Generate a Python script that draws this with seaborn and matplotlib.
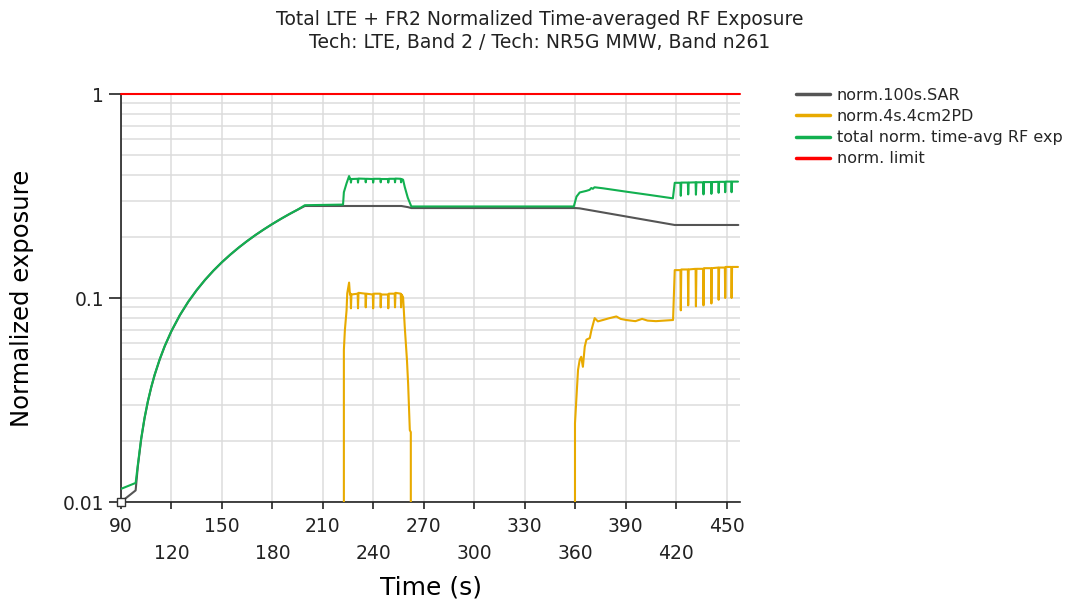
import matplotlib
matplotlib.use("Agg")
import matplotlib.pyplot as plt
import seaborn as sns
from matplotlib.ticker import LogLocator, FixedLocator, NullFormatter
from matplotlib.transforms import ScaledTranslation

# ---------------- data ----------------
title_lines = ["Total LTE + FR2 Normalized Time-averaged RF Exposure",
               "Tech: LTE, Band 2 / Tech: NR5G MMW, Band n261"]
series_names = ["norm.100s.SAR", "norm.4s.4cm2PD",
                "total norm. time-avg RF exp", "norm. limit"]
x_ticks = [90, 120, 150, 180, 210, 240, 270, 300, 330, 360, 390, 420, 450]
y_ticks = [0.01, 0.1, 1]
y_tick_labels = ["0.01", "0.1", "1"]

sar_time = [90, 98.7, 100, 102, 104, 106, 108, 110, 113, 116, 120, 125, 130,
            135, 140, 145, 150, 155, 160, 165, 170, 175, 180, 185, 190, 195,
            199.3, 256.7, 260.5, 262.6, 360.0, 362.7, 419.2, 457.0]
sar_vals = [0.0100, 0.0114, 0.0149, 0.0203, 0.0257, 0.0311, 0.0365, 0.0419,
            0.0499, 0.0580, 0.0688, 0.0823, 0.0958, 0.1092, 0.1227, 0.1362,
            0.1497, 0.1631, 0.1766, 0.1901, 0.2036, 0.2170, 0.2305, 0.2440,
            0.2575, 0.2709, 0.2825, 0.2825, 0.279, 0.276, 0.276, 0.275,
            0.228, 0.228]

pd_time = [90, 222.4, 222.5, 223.1, 224.1, 224.5, 225.6, 226.1,
           226.5, 226.7, 227.0, 230.7, 230.9, 231.2, 235.3, 235.5, 235.8,
           239.7, 239.9, 240.2, 244.2, 244.4, 244.7, 248.7, 248.9, 249.2,
           252.7, 252.9, 253.2, 256.3, 256.5, 256.8,
           257.7, 258.7, 260.0, 260.7, 261.7, 262.3, 262.6,
           359.8, 359.9, 360.8, 361.7, 362.7, 363.6, 364.6, 365.7, 366.7,
           368.7, 369.7, 371.6, 373.5, 376.5, 380.0, 384.5, 387.0, 390.4,
           393.0, 395.8, 399.8, 403.0, 408.0, 413.0, 418.2,
           419.2, 422.6, 422.8, 423.1, 427.0, 427.2, 427.5, 431.6, 431.8, 432.1,
           436.1, 436.3, 436.6, 440.8, 441.0, 441.3, 445.1, 445.3, 445.6,
           449.0, 449.2, 449.5, 452.8, 453.0, 453.3, 456.8]
pd_vals = [0, 0, 0.0556, 0.0697, 0.087, 0.1054, 0.119, 0.104,
           0.105, 0.089, 0.104, 0.105, 0.089, 0.106, 0.105, 0.090, 0.105,
           0.104, 0.089, 0.105, 0.105, 0.090, 0.104, 0.104, 0.089, 0.105,
           0.105, 0.090, 0.106, 0.105, 0.090, 0.104,
           0.101, 0.072, 0.0497, 0.038, 0.0225, 0.022, 0,
           0, 0.0243, 0.0329, 0.0444, 0.0497, 0.0515, 0.046, 0.0577, 0.0625,
           0.0636, 0.0697, 0.0797, 0.0768, 0.078, 0.0795, 0.0812, 0.079, 0.078,
           0.0775, 0.077, 0.079, 0.0775, 0.077, 0.0775, 0.078,
           0.137, 0.137, 0.087, 0.138, 0.138, 0.092, 0.138, 0.139, 0.091, 0.139,
           0.139, 0.092, 0.140, 0.140, 0.094, 0.140, 0.141, 0.098, 0.141,
           0.141, 0.100, 0.142, 0.142, 0.100, 0.142, 0.142]

tot_time = [90, 98.7, 100, 102, 104, 106, 108, 110, 113, 116, 120, 125, 130,
            135, 140, 145, 150, 155, 160, 165, 170, 175, 180, 185, 190, 195,
            199.3, 222.0, 222.5, 224.1, 225.6, 226.1,
            226.5, 226.7, 227.0, 230.7, 230.9, 231.2, 235.3, 235.5, 235.8,
            239.7, 239.9, 240.2, 244.2, 244.4, 244.7, 248.7, 248.9, 249.2,
            252.7, 252.9, 253.2, 256.3, 256.5, 256.8,
            257.7, 258.7, 260.5, 262.6, 359.2, 360.8, 362.7, 364.6, 366.6,
            368.6, 369.6, 370.5, 371.5, 376.5, 390.4, 404.2, 418.1,
            419.2, 422.6, 422.8, 423.1, 427.0, 427.2, 427.5, 431.6, 431.8, 432.1,
            436.1, 436.3, 436.6, 440.8, 441.0, 441.3, 445.1, 445.3, 445.6,
            449.0, 449.2, 449.5, 452.8, 453.0, 453.3, 456.8]
tot_vals = [0.0116, 0.0124, 0.0152, 0.0205, 0.0259, 0.0313, 0.0367, 0.0421,
            0.0501, 0.0582, 0.0690, 0.0825, 0.0960, 0.1094, 0.1229, 0.1364,
            0.1499, 0.1633, 0.1768, 0.1903, 0.2038, 0.2172, 0.2307, 0.2442,
            0.2577, 0.2711, 0.2850, 0.287, 0.330, 0.365, 0.396, 0.384,
            0.384, 0.368, 0.383, 0.384, 0.368, 0.385, 0.384, 0.369, 0.384,
            0.383, 0.368, 0.384, 0.384, 0.369, 0.383, 0.383, 0.368, 0.384,
            0.384, 0.369, 0.385, 0.384, 0.369, 0.383,
            0.380, 0.350, 0.310, 0.281, 0.281, 0.314, 0.329, 0.332, 0.335,
            0.339, 0.346, 0.343, 0.349, 0.345, 0.332, 0.320, 0.308,
            0.367, 0.367, 0.317, 0.368, 0.368, 0.322, 0.368, 0.369, 0.321, 0.369,
            0.369, 0.322, 0.370, 0.370, 0.324, 0.370, 0.371, 0.328, 0.371,
            0.371, 0.330, 0.372, 0.372, 0.330, 0.372, 0.372]

limit_time = [90, 458]
limit_vals = [1, 1]

colors = ["#555555", "#E8AA00", "#12B050", "#FF0000"]

# ---------------- figure ----------------
sns.set_theme(style="white")
plt.rcParams["font.family"] = ["DejaVu Sans"]

W, H = 1066, 602
fig = plt.figure(figsize=(W / 100, H / 100), dpi=100)
ax = fig.add_axes([121 / W, 1 - 502 / H, (740 - 121) / W, (502 - 94) / H])

for t, v, c, name in zip([sar_time, pd_time, tot_time, limit_time],
                         [sar_vals, pd_vals, tot_vals, limit_vals],
                         colors, series_names):
    sns.lineplot(x=t, y=v, color=c, label=name, linewidth=1.5,
                 estimator=None, sort=False, ax=ax,
                 clip_on=(name != "norm. limit"), zorder=3)

sns.scatterplot(x=sar_time[:1], y=sar_vals[:1], marker="s", s=28,
                facecolor="white", edgecolor="#333333", linewidth=1.0,
                ax=ax, clip_on=False, zorder=6, legend=False)

ax.set_yscale("log")
ax.set_xlim(90, 458)
ax.set_ylim(0.01, 1)

ax.yaxis.set_major_locator(FixedLocator(y_ticks))
ax.set_yticklabels(y_tick_labels)
ax.yaxis.set_minor_locator(LogLocator(base=10, subs=[2, 3, 4, 5, 6, 7, 8, 9]))
ax.yaxis.set_minor_formatter(NullFormatter())
ax.set_xticks(x_ticks)
ax.set_xticklabels([str(x) for x in x_ticks])

ax.grid(True, which="both", axis="y", color="#dcdcdc", linewidth=1.1, zorder=0)
ax.grid(True, which="major", axis="x", color="#dcdcdc", linewidth=1.1, zorder=0)
ax.set_axisbelow(True)

for s in ["top", "right"]:
    ax.spines[s].set_visible(False)
for s in ["left", "bottom"]:
    ax.spines[s].set_color("#222222")
    ax.spines[s].set_linewidth(1.2)

ax.tick_params(axis="x", which="major", direction="out", length=5, width=1.2,
               color="#222222", labelsize=13.5, pad=6, labelcolor="#222222",
               bottom=True)
ax.tick_params(axis="y", which="major", direction="out", length=9, width=1.2,
               color="#222222", labelsize=13.5, pad=3, labelcolor="#222222",
               left=True)
ax.tick_params(axis="y", which="minor", length=0)

for lab in ax.get_xticklabels()[1::2]:
    lab.set_transform(lab.get_transform() +
                      ScaledTranslation(0, -0.27, fig.dpi_scale_trans))

ax.set_xlabel("Time (s)", fontsize=18, color="black")
ax.xaxis.set_label_coords(0.5, -(588 - 502) / 408)
ax.xaxis.label.set_va("center")
ax.set_ylabel("Normalized exposure", fontsize=17.5, color="black")
ax.yaxis.set_label_coords((22 - 121) / 619, 0.5)
ax.yaxis.label.set_va("center")

fig.text(540 / W, 1 - 31 / H, "\n".join(title_lines), ha="center",
         va="center", fontsize=13.5, linespacing=1.25, color="#222222")

leg = ax.legend(loc="upper left", bbox_to_anchor=(796 / W, 1 - 88 / H),
                bbox_transform=fig.transFigure, frameon=False, fontsize=11.5,
                handlelength=2.1, handletextpad=0.45, labelspacing=0.38,
                borderpad=0, borderaxespad=0)
for ln in leg.get_lines():
    ln.set_linewidth(2.5)

fig.savefig("out.png", dpi=100)
